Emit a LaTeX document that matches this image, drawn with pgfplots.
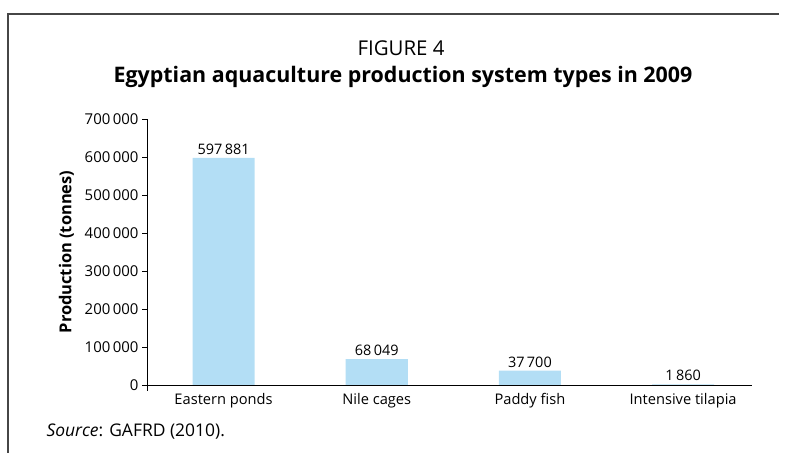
\documentclass[border=0pt]{standalone}
\usepackage{pgfplots}
\pgfplotsset{compat=1.18}
\usepackage{fontspec}
\setmainfont{Open Sans}
\definecolor{barblue}{RGB}{179,222,245}
\definecolor{framegray}{RGB}{70,70,70}
\begin{document}
\begin{tikzpicture}
\path[use as bounding box] (0,0) rectangle (787bp,453bp);
\draw[line width=1.6pt, framegray] (8bp,0) -- (8bp,439bp) -- (779bp,439bp);
\node[font=\fontsize{20.5}{24}\selectfont] at (401bp,405bp) {FIGURE 4};
\node[font=\fontsize{21.5}{25}\selectfont\bfseries] at (403bp,376bp) {Egyptian aquaculture production system types in 2009};
\node[anchor=west, font=\fontsize{17.5}{20}\selectfont] at (43bp,21bp) {\textit{Source}: GAFRD (2010).};
\draw[black, line width=0.8pt] (147bp,68bp) -- (147bp,62bp);
\begin{axis}[
  at={(147bp,68bp)}, anchor=south west,
  scale only axis, width=605bp, height=266bp,
  xmin=-0.5, xmax=3.45, ymin=0, ymax=700000,
  axis lines*=left,
  axis line style={black, line width=0.8pt},
  scaled y ticks=false,
  ytick={0,100000,200000,300000,400000,500000,600000,700000},
  yticklabels={0,100\,000,200\,000,300\,000,400\,000,500\,000,600\,000,700\,000},
  xtick={0,1,2,3},
  xticklabels={Eastern ponds, Nile cages, Paddy fish, Intensive tilapia},
  x tick style={draw=none},
  tick align=outside, major tick length=5bp,
  y tick style={black, line width=0.8pt},
  yticklabel style={font=\fontsize{15}{17}\selectfont},
  xticklabel style={font=\fontsize{14.7}{17}\selectfont},
  ylabel={\textbf{Production (tonnes)}},
  ylabel style={font=\fontsize{16.5}{19}\selectfont},
  ylabel shift=4bp,
  point meta=explicit symbolic,
  nodes near coords,
  every node near coord/.append style={font=\fontsize{14.5}{17}\selectfont, black},
  nodes near coords align={vertical},
  clip=false,
]
\addplot[ybar, bar width=62bp, fill=barblue, draw=none] coordinates {(0,597881) [597\,881] (1,68049) [68\,049] (2,37700) [37\,700] (3,1860) [1\,860]};
\end{axis}
\end{tikzpicture}
\end{document}
